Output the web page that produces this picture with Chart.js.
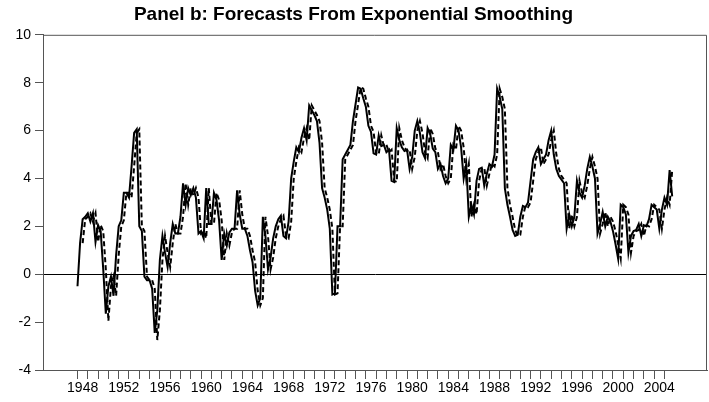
<!DOCTYPE html>
<html>
<head>
<meta charset="utf-8">
<script src="https://cdn.jsdelivr.net/npm/chart.js@4/dist/chart.umd.min.js"></script>
<style>
  html, body { margin: 0; padding: 0; background: #ffffff; }
  #wrap { width: 709px; height: 402px; }
</style>
</head>
<body>
<div id="wrap"><canvas id="c" width="709" height="402"></canvas></div>
<script>
// ---- data (quarterly, 1948Q1 .. 2005Q4) ----
const startYear = 1948;
const endYear = 2005;
const labelYears = [1948, 1952, 1956, 1960, 1964, 1968, 1972, 1976, 1980, 1984, 1988, 1992, 1996, 2000, 2004];
const yTicks = [-4, -2, 0, 2, 4, 6, 8, 10];

const actual = [
  -0.5, 1.3, 2.3, 2.4,      // 1948
  2.55, 2.2, 2.55, 1.35,    // 1949
  2.05, 1.8, 0.2, -1.65,    // 1950
  -0.5, -0.1, -0.9, 0.8,    // 1951
  2.0, 2.25, 3.4, 3.4,      // 1952
  3.2, 4.5, 5.9, 6.05,      // 1953
  2.0, 1.8, -0.1, -0.25,    // 1954
  -0.25, -0.6, -2.45, -1.5, // 1955
  0.6, 1.6, 0.9, 0.3,       // 1956
  1.3, 2.1, 1.7, 1.7,       // 1957
  2.4, 3.8, 2.9, 3.6,       // 1958
  3.3, 3.6, 3.2, 1.7,       // 1959
  1.8, 1.5, 3.6, 2.1,       // 1960
  2.1, 3.4, 3.1, 2.25,      // 1961
  0.6, 1.7, 1.2, 1.75,      // 1962
  1.9, 1.9, 3.5, 2.5,       // 1963
  1.9, 1.9, 1.6, 1.0,       // 1964
  0.5, -0.7, -1.3, -1.0,    // 1965
  2.4, 1.6, 0.2, 0.7,       // 1966
  1.5, 2.0, 2.3, 2.45,      // 1967
  1.6, 1.5, 2.2, 4.0,       // 1968
  4.7, 5.3, 5.1, 5.7,       // 1969
  6.1, 5.6, 7.05, 6.85,     // 1970
  6.65, 6.4, 5.5, 3.6,      // 1971
  3.2, 2.7, 1.9, -0.85,     // 1972
  -0.8, 2.0, 2.0, 4.8,      // 1973
  5.0, 5.2, 5.4, 6.4,       // 1974
  7.1, 7.8, 7.75, 7.35,     // 1975
  7.0, 6.2, 5.95, 5.05,     // 1976
  5.0, 5.8, 5.35, 5.4,      // 1977
  5.1, 5.2, 3.9, 3.85,      // 1978
  6.1, 5.6, 5.3, 5.15,      // 1979
  5.2, 4.4, 4.9, 6.0,       // 1980
  6.4, 5.9, 5.1, 4.85,      // 1981
  6.1, 5.85, 5.25, 5.1,     // 1982
  4.4, 4.6, 4.1, 3.8,       // 1983
  4.0, 5.4, 5.2, 6.2,       // 1984
  6.0, 5.3, 4.0, 4.6,       // 1985
  2.4, 2.9, 2.5, 3.9,       // 1986
  4.4, 4.45, 3.7, 4.2,      // 1987
  4.6, 4.5, 5.0, 7.75,      // 1988
  7.4, 6.9, 3.6, 2.9,       // 1989
  2.4, 1.85, 1.6, 1.65,     // 1990
  2.4, 2.85, 2.8, 3.0,      // 1991
  3.9, 4.8, 5.1, 5.3,       // 1992
  4.6, 4.8, 5.0, 5.6,       // 1993
  6.0, 5.0, 4.4, 4.1,       // 1994
  3.95, 3.8, 1.9, 2.5,      // 1995
  2.0, 2.4, 3.9, 3.4,       // 1996
  3.2, 3.7, 4.4, 4.9,       // 1997
  4.5, 4.0, 1.7, 2.1,       // 1998
  2.6, 2.0, 2.4, 2.2,       // 1999
  1.8, 1.25, 0.65, 2.9,     // 2000
  2.8, 2.5, 0.9, 1.6,       // 2001
  1.8, 1.85, 2.1, 1.6,      // 2002
  2.05, 2.0, 2.3, 2.9,      // 2003
  2.8, 2.7, 1.9, 2.7,       // 2004
  3.2, 2.9, 4.35, 3.25      // 2005
];

const forecast = [
  null, null, 1.3, 2.3,     // 1948
  2.4, 2.55, 2.2, 2.55,     // 1949
  1.35, 2.05, 1.8, 0.2,     // 1950
  -1.95, -0.5, -0.1, -0.9,  // 1951
  0.8, 2.0, 2.25, 3.4,      // 1952
  3.4, 3.2, 4.5, 5.9,       // 1953
  6.05, 2.0, 1.8, -0.1,     // 1954
  -0.25, -0.25, -0.6, -2.75,// 1955
  -1.5, 0.6, 1.6, 0.9,      // 1956
  0.3, 1.3, 2.1, 1.7,       // 1957
  1.7, 2.4, 3.8, 2.9,       // 1958
  3.6, 3.3, 3.6, 3.2,       // 1959
  1.7, 1.8, 1.5, 3.6,       // 1960
  2.1, 2.1, 3.4, 3.1,       // 1961
  2.25, 0.6, 1.7, 1.2,      // 1962
  1.75, 1.9, 1.9, 3.5,      // 1963
  2.5, 1.9, 1.9, 1.6,       // 1964
  1.0, 0.5, -0.7, -1.3,     // 1965
  -1.0, 2.4, 1.6, 0.2,      // 1966
  0.7, 1.5, 2.0, 2.3,       // 1967
  2.45, 1.6, 1.5, 2.2,      // 1968
  4.0, 4.7, 5.3, 5.1,       // 1969
  5.7, 6.1, 5.6, 7.05,      // 1970
  6.85, 6.65, 6.4, 5.5,     // 1971
  3.6, 3.2, 2.7, 1.9,       // 1972
  -0.85, -0.8, 2.0, 2.0,    // 1973
  4.8, 5.0, 5.2, 5.4,       // 1974
  6.4, 7.1, 7.8, 7.75,      // 1975
  7.35, 7.0, 6.2, 5.95,     // 1976
  5.05, 5.0, 5.8, 5.35,     // 1977
  5.4, 5.1, 5.2, 3.9,       // 1978
  3.85, 6.1, 5.6, 5.3,      // 1979
  5.15, 5.2, 4.4, 4.9,      // 1980
  6.0, 6.4, 5.9, 5.1,       // 1981
  4.85, 6.1, 5.85, 5.25,    // 1982
  5.1, 4.4, 4.6, 4.1,       // 1983
  3.8, 4.0, 5.4, 5.2,       // 1984
  6.2, 6.0, 5.3, 4.0,       // 1985
  4.6, 2.4, 2.9, 2.5,       // 1986
  3.9, 4.4, 4.45, 3.7,      // 1987
  4.2, 4.6, 4.5, 5.0,       // 1988
  7.75, 7.4, 6.9, 3.6,      // 1989
  2.9, 2.4, 1.85, 1.6,      // 1990
  1.65, 2.4, 2.85, 2.8,     // 1991
  3.0, 3.9, 4.8, 5.1,       // 1992
  5.3, 4.6, 4.8, 5.0,       // 1993
  5.6, 6.0, 5.0, 4.4,       // 1994
  4.1, 3.95, 3.8, 1.9,      // 1995
  2.5, 2.0, 2.4, 3.9,       // 1996
  3.4, 3.2, 3.7, 4.4,       // 1997
  4.9, 4.5, 4.0, 1.7,       // 1998
  2.1, 2.6, 2.0, 2.4,       // 1999
  2.2, 1.8, 1.25, 0.65,     // 2000
  2.9, 2.8, 2.5, 0.9,       // 2001
  1.6, 1.8, 1.85, 2.1,      // 2002
  1.6, 2.05, 2.0, 2.3,      // 2003
  2.9, 2.8, 2.7, 1.9,       // 2004
  2.7, 3.2, 2.9, 4.35       // 2005
];

// quarter time positions (category axis: 1948Q1 = 1948.00, Q2 = 1948.25, ...)
const quarterTimes = actual.map((_, i) => startYear + i / 4);
const toPoints = arr => arr.map((v, i) => ({ x: quarterTimes[i], y: v }));

const FONT = "'Liberation Sans', Arial, Helvetica, sans-serif";
const AXIS_GRAY = '#555555';

const framePlugin = {
  id: 'frame',
  afterDraw(chart) {
    const a = chart.chartArea, ctx = chart.ctx;
    ctx.save();
    ctx.strokeStyle = AXIS_GRAY;
    ctx.lineWidth = 1;
    ctx.beginPath();
    ctx.moveTo(a.left, a.top + 0.5);
    ctx.lineTo(a.right - 0.5, a.top + 0.5);
    ctx.lineTo(a.right - 0.5, a.bottom);
    ctx.stroke();
    ctx.restore();
  }
};

new Chart(document.getElementById('c'), {
  type: 'line',
  data: {
    datasets: [
      {
        label: 'Actual',
        data: toPoints(actual),
        borderColor: '#000000',
        borderWidth: 2,
        pointRadius: 0,
        tension: 0,
        fill: false
      },
      {
        label: 'Forecast',
        data: toPoints(forecast),
        borderColor: '#000000',
        borderWidth: 2,
        borderDash: [5, 3],
        pointRadius: 0,
        tension: 0,
        fill: false,
        spanGaps: false
      }
    ]
  },
  options: {
    responsive: false,
    animation: false,
    devicePixelRatio: 1,
    layout: { padding: { left: 0, right: 2, top: 0, bottom: 0 } },
    plugins: {
      legend: { display: false },
      tooltip: { enabled: false },
      title: {
        display: true,
        text: 'Panel b: Forecasts From Exponential Smoothing',
        color: '#000000',
        font: { family: FONT, size: 19, weight: 'bold', lineHeight: 1.2 },
        padding: { top: 3, bottom: 9 }
      }
    },
    scales: {
      x: {
        type: 'linear',
        min: 1944.65,
        max: 2009.13,
        afterBuildTicks(scale) {
          const t = [];
          for (let y = startYear; y <= endYear; y++) t.push({ value: y });
          labelYears.forEach(y => t.push({ value: y + 0.5 }));
          t.sort((a, b) => a.value - b.value);
          scale.ticks = t;
        },
        afterFit(scale) { scale.height = 32; },
        ticks: {
          autoSkip: false,
          maxRotation: 0,
          minRotation: 0,
          padding: 1,
          color: '#000000',
          font: { family: FONT, size: 14 },
          callback: (v) => Number.isInteger(v) ? '' : String(Math.floor(v))
        },
        grid: {
          drawOnChartArea: false,
          drawTicks: true,
          tickLength: 9,
          color: 'rgba(0,0,0,0)',
          tickColor: (ctx) => (ctx.tick && Number.isInteger(ctx.tick.value)) ? AXIS_GRAY : 'rgba(0,0,0,0)'
        },
        border: { display: true, color: AXIS_GRAY, width: 1 }
      },
      y: {
        type: 'linear',
        min: -4,
        max: 10,
        afterBuildTicks(scale) { scale.ticks = yTicks.map(v => ({ value: v })); },
        afterFit(scale) { scale.width = 43; },
        ticks: {
          padding: 4,
          color: '#000000',
          font: { family: FONT, size: 14 },
          callback: (v) => String(v)
        },
        grid: {
          drawTicks: true,
          tickLength: 8,
          color: (ctx) => (ctx.tick && ctx.tick.value === 0) ? '#000000' : 'rgba(0,0,0,0)',
          tickColor: AXIS_GRAY,
          lineWidth: 1
        },
        border: { display: true, color: AXIS_GRAY, width: 1 }
      }
    }
  },
  plugins: [framePlugin]
});
</script>
</body>
</html>
